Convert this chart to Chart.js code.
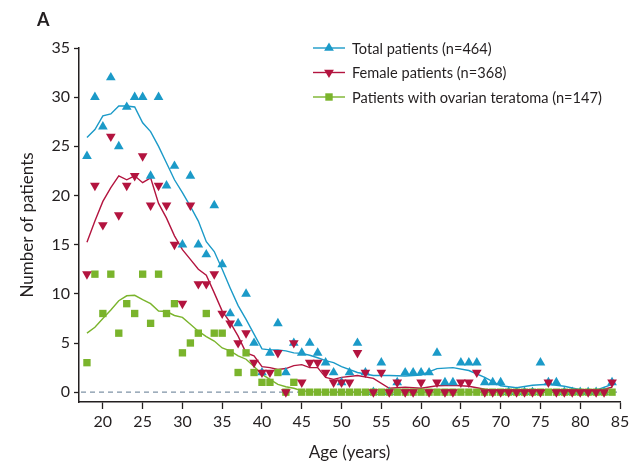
<!DOCTYPE html>
<html>
<head>
<meta charset="utf-8">
<script src="https://cdn.jsdelivr.net/npm/chart.js@4.4.1/dist/chart.umd.min.js"></script>
<style>
  html, body { margin: 0; padding: 0; background: #fff; }
  #wrap { width: 641px; height: 475px; position: relative; }
</style>
</head>
<body>
<div id="wrap"><canvas id="chart"></canvas></div>
<script>
// Patients per year of age
const ages = [18, 19, 20, 21, 22, 23, 24, 25, 26, 27, 28, 29, 30, 31, 32, 33, 34, 35, 36, 37,
              38, 39, 40, 41, 42, 43, 44, 45, 46, 47, 48, 49, 50, 51, 52, 53, 54, 55, 56, 57,
              58, 59, 60, 61, 62, 63, 64, 65, 66, 67, 68, 69, 70, 71, 72, 73, 74, 75, 76, 77,
              78, 79, 80, 81, 82, 83, 84];
const totalPatients = [24, 30, 27, 32, 25, 29, 30, 30, 22, 30, 21, 23, 15, 22, 15, 14, 19, 13, 8, 7,
                       10, 5, 2, 4, 7, 2, 5, 4, 5, 4, 3, 2, 1, 2, 5, 2, 0, 3, 0, 1,
                       2, 2, 2, 2, 4, 1, 1, 3, 3, 3, 1, 1, 1, 0, 0, 0, 0, 3, 1, 1,
                       0, 0, 0, 0, 0, 0, 1];
const femalePatients = [12, 21, 17, 26, 18, 21, 22, 24, 19, 21, 19, 15, 9, 19, 11, 11, 12, 8, 7, 5,
                        6, 3, 2, 2, 4, 0, 5, 1, 3, 3, 2, 1, 1, 1, 4, 2, 0, 2, 0, 1,
                        0, 0, 1, 0, 1, 0, 0, 1, 1, 2, 0, 0, 0, 0, 0, 0, 0, 0, 1, 0,
                        0, 0, 0, 0, 0, 0, 1];
const teratomaPatients = [3, 12, 8, 12, 6, 9, 8, 12, 7, 12, 8, 9, 4, 5, 6, 8, 6, 6, 4, 2,
                          4, 2, 1, 1, 2, 0, 1, 0, 0, 0, 0, 0, 0, 0, 0, 0, 0, 0, 0, 0,
                          0, 0, 0, 0, 0, 0, 0, 0, 0, 0, 0, 0, 0, 0, 0, 0, 0, 0, 0, 0,
                          0, 0, 0, 0, 0, 0, 0];

// Smoothed curves
const smoothAges = [18, 19, 20, 21, 22, 23, 24, 25, 26, 27, 28, 29, 30, 31, 32, 33, 34, 35, 36, 37,
                    38, 39, 40, 41, 42, 43, 44, 45, 46, 47, 48, 49, 50, 52, 54, 56, 58, 60, 62, 64,
                    66, 68, 70, 72, 74, 76, 78, 80, 82, 84];
const totalSmooth = [25.9, 26.7, 28.1, 28.3, 29.1, 29.1, 29.0, 27.4, 26.5, 25.0, 23.3, 21.6, 20.3, 18.9, 17.4, 15.3, 14.3, 12.5, 10.6, 8.8,
                     7.4, 5.9, 4.4, 4.3, 4.3, 4.2, 4.0, 3.95, 3.75, 3.5, 3.2, 3.0, 2.6, 2.0, 1.7, 1.7, 1.65, 1.75, 2.4, 2.5,
                     2.2, 1.5, 0.65, 0.45, 0.7, 0.8, 0.6, 0.25, 0.2, 0.8];
const femaleSmooth = [15.25, 17.4, 19.4, 20.8, 22.0, 21.6, 22.0, 21.3, 21.8, 19.2, 17.7, 15.9, 14.5, 13.5, 12.5, 11.9, 10.1, 8.25, 7.1, 5.7,
                      4.0, 3.7, 2.6, 2.5, 2.3, 2.4, 2.7, 2.8, 2.5, 2.5, 1.5, 1.3, 1.5, 1.7, 1.4, 0.4, 0.5, 0.4, 0.65, 0.7,
                      0.6, 0.3, 0.1, 0.1, 0.1, 0.2, 0.1, 0.1, 0.1, 0.5];
const teratomaSmooth = [6.0, 6.6, 7.5, 8.35, 9.3, 9.8, 9.85, 9.4, 9.0, 8.25, 8.2, 7.8, 7.6, 6.9, 6.2, 5.65, 5.2, 4.5, 4.2, 3.7,
                        3.35, 2.6, 1.8, 1.3, 0.8, 0.55, 0.4, 0.15, 0.05, 0, 0, 0, 0, 0, 0, 0, 0, 0, 0, 0,
                        0, 0, 0, 0, 0, 0, 0, 0, 0, 0];

const xTicks = [20, 25, 30, 35, 40, 45, 50, 55, 60, 65, 70, 75, 80, 85];
const yTicks = [0, 5, 10, 15, 20, 25, 30, 35];
const seriesLabels = ['Total patients (n=464)', 'Female patients (n=368)', 'Patients with ovarian teratoma (n=147)'];

const blue = '#1b9ac8';
const red = '#b3143f';
const green = '#7ab42c';
const ink = '#231f20';
const FONT = "Lato, 'Liberation Sans', sans-serif";

const toPoints = (xs, ys) => xs.map((x, i) => ({ x: x, y: ys[i] }));

function markerSet(label, values, colour, style, rotation, order) {
    return {
        label: label,
        data: toPoints(ages, values),
        showLine: false,
        pointStyle: style,
        rotation: rotation,
        pointRadius: style === 'rect' ? 5.2 : 5.6,
        pointBorderWidth: 0,
        backgroundColor: colour,
        borderColor: colour,
        order: order
    };
}

function curveSet(values, colour, order) {
    return {
        label: '',
        data: toPoints(smoothAges, values),
        showLine: true,
        pointRadius: 0,
        borderColor: colour,
        borderWidth: 1.4,
        tension: 0,
        fill: false,
        order: order
    };
}

// dashed reference line at zero, panel letter and legend
const extras = {
    id: 'extras',
    beforeDatasetsDraw(chart) {
        const { ctx, chartArea, scales } = chart;
        const y = scales.y.getPixelForValue(0);
        ctx.save();
        ctx.strokeStyle = '#7f93a6';
        ctx.lineWidth = 1.3;
        ctx.setLineDash([5, 4]);
        ctx.beginPath();
        ctx.moveTo(chartArea.left + 2, y);
        ctx.lineTo(chartArea.right, y);
        ctx.stroke();
        ctx.restore();
    },
    afterDraw(chart) {
        const ctx = chart.ctx;
        ctx.save();
        ctx.fillStyle = ink;
        ctx.font = "bold 18px " + FONT;
        ctx.textBaseline = 'middle';
        ctx.fillText('A', 37, 20);

        const colours = [blue, red, green];
        ctx.font = "14.6px " + FONT;
        seriesLabels.forEach((label, i) => {
            const y = 48 + i * 24.5;
            ctx.strokeStyle = colours[i];
            ctx.fillStyle = colours[i];
            ctx.lineWidth = 1.4;
            ctx.beginPath();
            ctx.moveTo(313, y);
            ctx.lineTo(345, y);
            ctx.stroke();
            ctx.beginPath();
            if (i === 0) {
                ctx.moveTo(329, y - 5.6);
                ctx.lineTo(333.9, y + 2.8);
                ctx.lineTo(324.1, y + 2.8);
            } else if (i === 1) {
                ctx.moveTo(329, y + 5.6);
                ctx.lineTo(333.9, y - 2.8);
                ctx.lineTo(324.1, y - 2.8);
            } else {
                ctx.rect(325.3, y - 3.7, 7.4, 7.4);
            }
            ctx.closePath();
            ctx.fill();
            ctx.fillStyle = ink;
            ctx.fillText(label, 352, y + 1);
        });
        ctx.restore();
    }
};

new Chart(document.getElementById('chart'), {
    type: 'scatter',
    data: {
        datasets: [
            markerSet(seriesLabels[0], totalPatients, blue, 'triangle', 0, 2),
            markerSet(seriesLabels[1], femalePatients, red, 'triangle', 180, 0),
            markerSet(seriesLabels[2], teratomaPatients, green, 'rect', 0, 1),
            curveSet(totalSmooth, blue, 3),
            curveSet(femaleSmooth, red, 4),
            curveSet(teratomaSmooth, green, 5)
        ]
    },
    options: {
        responsive: true,
        maintainAspectRatio: false,
        animation: false,
        layout: { padding: { top: 48, right: 21, bottom: 0, left: 0 } },
        plugins: {
            legend: { display: false },
            tooltip: { enabled: false }
        },
        scales: {
            x: {
                type: 'linear',
                min: 17,
                max: 85,
                afterBuildTicks: scale => { scale.ticks = xTicks.map(v => ({ value: v })); },
                afterFit: scale => { scale.height = 73; },
                grid: { drawOnChartArea: false, drawTicks: true, tickLength: 7, color: ink, tickWidth: 1.3 },
                border: { display: true, color: ink, width: 1.5 },
                ticks: { color: ink, font: { family: FONT, size: 16 }, padding: 3, maxRotation: 0 },
                title: { display: true, text: 'Age (years)', color: ink, font: { family: FONT, size: 17 }, padding: { top: 0, bottom: 12 } }
            },
            y: {
                min: -1,
                max: 35,
                afterBuildTicks: scale => { scale.ticks = yTicks.map(v => ({ value: v })); },
                afterFit: scale => { scale.width = 79; },
                grid: { drawOnChartArea: false, drawTicks: true, tickLength: 5, color: ink, tickWidth: 1.3 },
                border: { display: true, color: ink, width: 1.5 },
                ticks: { color: ink, font: { family: FONT, size: 16 }, padding: 4 },
                title: { display: true, text: 'Number of patients', color: ink, font: { family: FONT, size: 17 }, padding: { top: 17, bottom: 0 } }
            }
        }
    },
    plugins: [extras]
});
</script>
</body>
</html>
